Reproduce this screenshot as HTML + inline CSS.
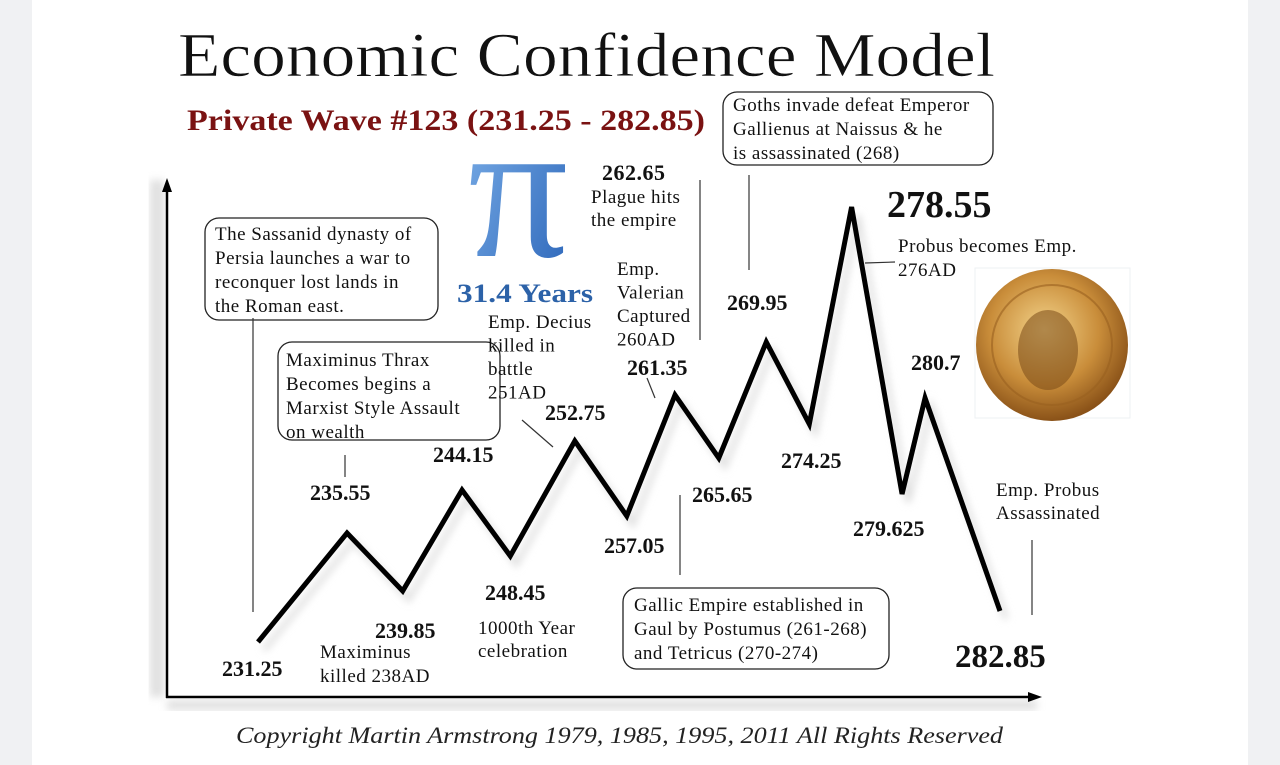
<!DOCTYPE html>
<html><head><meta charset="utf-8"><style>
html,body{margin:0;padding:0;background:#fff;}
#wrap{position:relative;width:1280px;height:765px;overflow:hidden;background:#fff;}
.side{position:absolute;top:0;height:765px;width:32px;background:#f0f1f3;}
svg text{font-family:"Liberation Serif",serif;}
</style></head><body>
<div id="wrap">
<div class="side" style="left:0"></div>
<div class="side" style="left:1248px"></div>
<svg id="chart" width="1280" height="765" style="position:absolute;left:0;top:0">
<defs>
<radialGradient id="gold" cx="45%" cy="40%" r="60%"><stop offset="0" stop-color="#f3d38a"/><stop offset="0.6" stop-color="#c98d3a"/><stop offset="1" stop-color="#8a5218"/></radialGradient>
<linearGradient id="piG" x1="0" y1="0" x2="1" y2="1"><stop offset="0" stop-color="#7fb2ea"/><stop offset="1" stop-color="#2a64b8"/></linearGradient>
<filter id="blur"><feGaussianBlur stdDeviation="4"/></filter>
</defs>
<g>
<text x="178" y="76" font-size="62" textLength="817" lengthAdjust="spacingAndGlyphs" fill="#111" stroke="#fff" stroke-width="0.6">Economic Confidence Model</text>
</g>
<text x="187" y="130" font-size="30" font-weight="bold" fill="#7a1212" textLength="518" lengthAdjust="spacingAndGlyphs">Private Wave #123 (231.25 - 282.85)</text>
<text x="468" y="256" font-size="200" fill="url(#piG)" textLength="100" lengthAdjust="spacingAndGlyphs">π</text>
<text x="457" y="302" font-size="26" font-weight="bold" fill="#2c62a8" textLength="136" lengthAdjust="spacingAndGlyphs">31.4 Years</text>
<g>
<rect x="150" y="180" width="14" height="517" fill="#ccc" filter="url(#blur)" opacity="0.6"/>
<rect x="167" y="700" width="870" height="10" fill="#ccc" filter="url(#blur)" opacity="0.6"/>
<line x1="167" y1="188" x2="167" y2="698" stroke="#000" stroke-width="2.5"/>
<polygon points="162,192 167,178 172,192" fill="#000"/>
<line x1="166" y1="697" x2="1032" y2="697" stroke="#000" stroke-width="2.5"/>
<polygon points="1028,692 1042,697 1028,702" fill="#000"/>
</g>
<g id="series"></g>
<g>
<rect x="975" y="268" width="155" height="150" fill="#fff" stroke="#eef0f3"/>
<circle cx="1052" cy="345" r="76" fill="url(#gold)"/>
<circle cx="1052" cy="345" r="60" fill="none" stroke="#9a6020" stroke-width="2" opacity="0.6"/>
<ellipse cx="1048" cy="350" rx="30" ry="40" fill="#7a4a18" opacity="0.55"/>
</g>
<g id="notes" font-size="19" letter-spacing="0.5" fill="#111"></g>
<g id="labels"></g>
<text x="236" y="743" font-size="23" font-style="italic" fill="#222" textLength="767" lengthAdjust="spacingAndGlyphs">Copyright Martin Armstrong 1979, 1985, 1995, 2011 All Rights Reserved</text>
</svg>
</div>
<script>
// chart data
const pointLabels = ["231.25","235.55","239.85","244.15","248.45","252.75","257.05","261.35","265.65","269.95","274.25","278.55","279.625","280.7","282.85"];
const timePos = [0,12,19.5,27.5,34,42.7,49.7,56.2,62.1,68.5,74.3,80,86.8,89.9,100];
const confidence = [55,164,106,207,141,256,181,302,239,355,273,490,203,299,86];
const NS="http://www.w3.org/2000/svg";
function xs(t){return 258+t*7.42;}
function ys(v){return 697-v;}
const series=document.getElementById('series');
let d=timePos.map((t,i)=>(i?'L':'M')+xs(t)+','+ys(confidence[i])).join(' ');
const sh=document.createElementNS(NS,'path');
sh.setAttribute('d',d);sh.setAttribute('transform','translate(6,8)');
sh.setAttribute('fill','none');sh.setAttribute('stroke','#ddd');sh.setAttribute('stroke-width','5');sh.setAttribute('filter','url(#blur)');


series.appendChild(sh);
const p=document.createElementNS(NS,'path');
p.setAttribute('d',d);p.setAttribute('fill','none');p.setAttribute('stroke','#000');p.setAttribute('stroke-width','5');p.setAttribute('stroke-linejoin','miter');


series.appendChild(p);
// value labels [x,y,size]
const labelPlace=[[222,676,22],[310,500,22],[375,638,22],[433,462,22],[485,600,22],[545,420,22],[604,553,22],[627,375,22],[692,502,22],[727,310,22],[781,468,22],[887,217,38],[853,536,22],[911,370,22],[955,667,33]];
const lg=document.getElementById('labels');
pointLabels.forEach((s,i)=>{const t=document.createElementNS(NS,'text');
t.setAttribute('x',labelPlace[i][0]);t.setAttribute('y',labelPlace[i][1]);t.setAttribute('font-size',labelPlace[i][2]);t.setAttribute('font-weight','bold');t.setAttribute('fill','#111');t.textContent=s;


lg.appendChild(t);});
const ng=document.getElementById('notes');
const boxes=[[205,218,233,102],[278,342,222,98],[723,92,270,73],[623,588,266,81]];
boxes.forEach(b=>{const r=document.createElementNS(NS,'rect');
r.setAttribute('x',b[0]);r.setAttribute('y',b[1]);r.setAttribute('width',b[2]);r.setAttribute('height',b[3]);r.setAttribute('rx',14);r.setAttribute('fill','#fff');r.setAttribute('stroke','#222');r.setAttribute('stroke-width','1.3');


ng.appendChild(r);});
const notes=[
[215,240,24,["The Sassanid dynasty of","Persia launches a war to","reconquer lost lands in","the Roman east."]],
[286,366,24,["Maximinus Thrax","Becomes begins a","Marxist Style Assault","on wealth"]],
[733,111,24,["Goths invade defeat Emperor","Gallienus at Naissus & he","is assassinated (268)"]],
[634,611,24,["Gallic Empire established in","Gaul by Postumus (261-268)","and Tetricus (270-274)"]],
[591,203,23,["Plague hits","the empire"]],
[617,275,23.5,["Emp.","Valerian","Captured","260AD"]],
[488,328,23.5,["Emp. Decius","killed in","battle","251AD"]],
[320,658,24,["Maximinus","killed 238AD"]],
[478,634,23,["1000th Year","celebration"]],
[898,252,24,["Probus becomes Emp.","276AD"]],
[996,496,23,["Emp. Probus","Assassinated"]]];
notes.forEach(n=>n[3].forEach((s,j)=>{const t=document.createElementNS(NS,'text');
t.setAttribute('x',n[0]);t.setAttribute('y',n[1]+j*n[2]);t.textContent=s;


ng.appendChild(t);}));
const t2=document.createElementNS(NS,'text');t2.setAttribute('x',602);t2.setAttribute('y',180);t2.setAttribute('font-size',22);t2.setAttribute('font-weight','bold');t2.textContent='262.65';


ng.appendChild(t2);
const leaders=[[253,318,253,612],[345,455,345,477],[522,420,553,447],[647,378,655,398],[700,180,700,340],[749,175,749,270],[865,263,895,262],[680,495,680,575],[1032,540,1032,615]];
leaders.forEach(l=>{const e=document.createElementNS(NS,'line');
e.setAttribute('x1',l[0]);e.setAttribute('y1',l[1]);e.setAttribute('x2',l[2]);e.setAttribute('y2',l[3]);e.setAttribute('stroke','#333');e.setAttribute('stroke-width','1.2');


ng.appendChild(e);});
</script>
</body></html>
